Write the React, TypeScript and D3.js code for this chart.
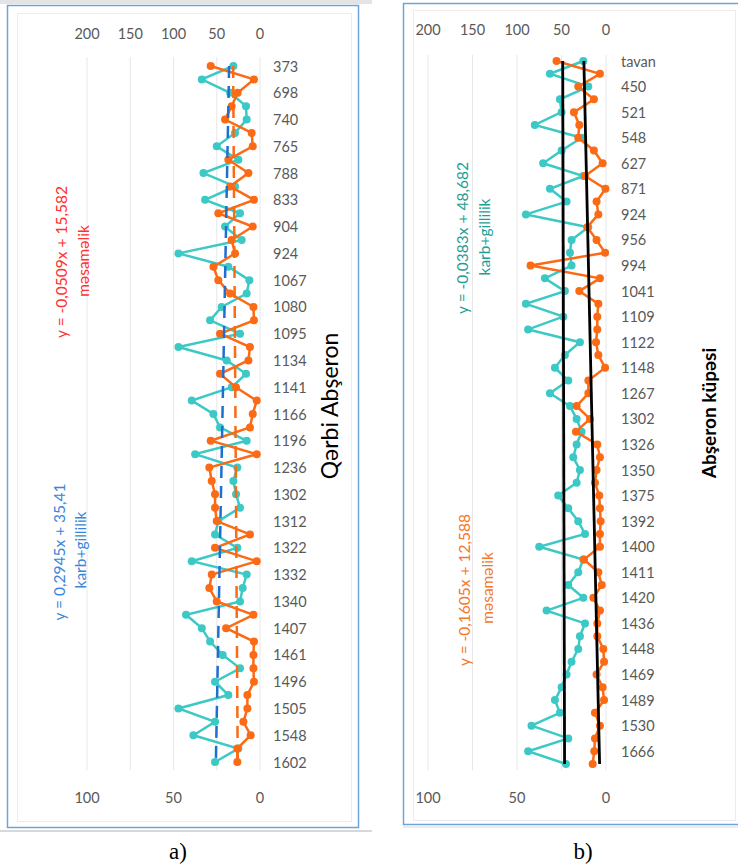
import * as d3 from 'd3';

// ── Data ──────────────────────────────────────────────────────────────────
const depthsA = ['373', '698', '740', '765', '788', '833', '904', '924', '1067', '1080', '1095', '1134', '1141', '1166', '1196', '1236', '1302', '1312', '1322', '1332', '1340', '1407', '1461', '1496', '1505', '1548', '1602'];
// karb+gillilik (primary axis 0–200)
const karbA = [30.8, 67.3, 34.6, 16.2, 15.4, 28.9, 50, 25, 65.4, 28.9, 63.5, 23.1, 40.4, 21.2, 94.3, 36.6, 12.3, 15.4, 44.3, 57.7, 23.1, 94.3, 38.5, 16.2, 32.7, 78.9, 53.9, 46.2, 15.4, 75, 26.2, 30.8, 27.7, 23.1, 48.1, 52, 26.2, 78.9, 15.4, 20, 23.1, 85.5, 67.3, 57.7, 43.1, 23.1, 52, 36.6, 94.3, 52, 77, 25, 52];
// məsaməlik (secondary axis 0–100)
const mesameA = [28.5, 3.5, 12.9, 16.4, 20.2, 4.8, 4.2, 18.3, 6.7, 17.3, 3.5, 24.1, 4.2, 16.4, 14.4, 26.9, 24.1, 17.3, 3.8, 3.5, 23.1, 5.8, 6.7, 23.1, 13.9, 1.9, 4.2, 5.8, 28.5, 1.9, 29.3, 27.9, 26, 26, 25, 5.8, 26, 1.9, 27.9, 29.3, 25, 3.8, 19.6, 3.5, 3.8, 3.8, 3.5, 7.3, 7.3, 9.6, 5.4, 13.1, 13.1];

const depthsB = ['tavan', '450', '521', '548', '627', '871', '924', '956', '994', '1041', '1109', '1122', '1148', '1267', '1302', '1326', '1350', '1375', '1392', '1400', '1411', '1420', '1436', '1448', '1469', '1489', '1530', '1666'];
const karbB = [25.5, 63, 19.9, 51.8, 49.9, 80, 27.4, 49.9, 70.6, 25.5, 63, 44.3, 90, 19.9, 38.7, 40.5, 38.7, 68.7, 46.2, 90, 48, 87.5, 29.3, 46.2, 57.4, 42.4, 63, 40.5, 33, 27.4, 33, 36.8, 29.3, 33, 53.7, 42.4, 31.2, 23.6, 75, 25.5, 31.2, 42.4, 25.5, 66.8, 23.6, 29.3, 31.2, 38.7, 44.3, 49.9, 57.4, 51.8, 83.7, 42.4, 87.5, 45];
const mesameB = [27.8, 3.4, 15.6, 6.8, 18, 15, 15.6, 6.8, 1.9, 11.8, 0.3, 5.3, 4.3, 10.5, 5.3, 0.5, 42.4, 3.4, 15, 4.3, 4.9, 4.9, 5.6, 4.3, 0.5, 9.9, 9.9, 16.5, 9, 16.9, 4.9, 3.4, 5.3, 6.2, 3.8, 3.4, 3, 3.4, 3.4, 12.4, 4.3, 2.4, 7.1, 3.4, 4.9, 4.9, 1.5, 1.1, 5.3, 1.9, 1.1, 6.2, 3.4, 6.2, 6.6, 7.5];

const topTicks = [200, 150, 100, 50, 0];
const bottomTicks = [100, 50, 0];

// trendline [slope, intercept] as printed on the chart
const trendKarbA = [0.2945, 35.41];
const trendMesameA = [-0.0509, 15.582];
const trendKarbB = [-0.0383, 48.682];
const trendMesameB = [-0.1605, 12.588];

const CYAN = '#3cc9c6';
const ORANGE = '#fb6a14';
const FONT = 'Lato, "Open Sans", sans-serif';

const Panel = ({ depths, karb, mesame, left, right, top, bottom, gridTop, gridBottom, topAxisY, bottomAxisY, labelX, trendKarb, trendMesame, trendKarbStyle, trendMesameStyle }) => {
  const n = karb.length;
  const xTop = d3.scaleLinear().domain([0, 200]).range([right, left]);
  const xBot = d3.scaleLinear().domain([0, 100]).range([right, left]);
  const y = d3.scaleLinear().domain([0, n - 1]).range([top, bottom]);

  const lineK = d3
    .line<number>()
    .x(d => xTop(d))
    .y((d, i) => y(i));
  const lineM = d3
    .line<number>()
    .x(d => xBot(d))
    .y((d, i) => y(i));

  const tk = (i: number) => trendKarb[0] * (i + 1) + trendKarb[1];
  const tm = (i: number) => trendMesame[0] * (i + 1) + trendMesame[1];

  return (
    <g>
      {/* gridlines */}
      {topTicks.map(t => (
        <line key={t} x1={xTop(t)} x2={xTop(t)} y1={gridTop} y2={gridBottom} stroke="#e7e7e7" strokeWidth={1} />
      ))}
      {/* top axis */}
      {topTicks.map(t => (
        <text key={'t' + t} x={xTop(t)} y={topAxisY} textAnchor="middle" dominantBaseline="central" fontSize={14.5} fill="#595959" fontFamily={FONT}>
          {t}
        </text>
      ))}
      {/* bottom axis */}
      {bottomTicks.map(t => (
        <text key={'b' + t} x={xBot(t)} y={bottomAxisY} textAnchor="middle" dominantBaseline="central" fontSize={14.5} fill="#595959" fontFamily={FONT}>
          {t}
        </text>
      ))}
      {/* category labels */}
      {depths.map((d, i) => (
        <text key={'c' + i} x={labelX} y={y(i * 2)} dominantBaseline="central" fontSize={14.5} fill="#595959" fontFamily={FONT}>
          {d}
        </text>
      ))}
      {/* series */}
      <path d={lineK(karb)} fill="none" stroke={CYAN} strokeWidth={2.5} />
      {karb.map((v, i) => (
        <circle key={'k' + i} cx={xTop(v)} cy={y(i)} r={4} fill={CYAN} />
      ))}
      <path d={lineM(mesame)} fill="none" stroke={ORANGE} strokeWidth={2.5} />
      {mesame.map((v, i) => (
        <circle key={'m' + i} cx={xBot(v)} cy={y(i)} r={4} fill={ORANGE} />
      ))}
      {/* trendlines */}
      <line x1={xTop(tk(0))} x2={xTop(tk(n - 1))} y1={y(0)} y2={y(n - 1)} {...trendKarbStyle} />
      <line x1={xBot(tm(0))} x2={xBot(tm(n - 1))} y1={y(0)} y2={y(n - 1)} {...trendMesameStyle} />
    </g>
  );
};

const VText = ({ x, y, children, size = 15.5, fill, weight = 'normal', family = FONT }) => (
  <text transform={`translate(${x},${y}) rotate(-90)`} textAnchor="middle" dominantBaseline="central" fontSize={size} fill={fill} fontWeight={weight} fontFamily={family}>
    {children}
  </text>
);

export default function App() {
  return (
    <svg width={738} height={866} style={{ display: 'block', position: 'absolute', left: 0, top: 0, background: '#fff' }}>
      {/* panel a frame */}
      <rect x={0} y={0} width={372} height={4} fill="#e4e4e4" />
      <rect x={7.5} y={5.5} width={351} height={822} fill="#fff" stroke="#6fa3dc" strokeWidth={1.5} />
      <rect x={17.5} y={13.5} width={334} height={808} fill="none" stroke="#ececec" strokeWidth={1} />
      <line x1={0} x2={372} y1={831} y2={831} stroke="#d8d8d8" strokeWidth={2} />

      {/* panel b frame */}
      <rect x={403.5} y={3.5} width={345} height={821} fill="#fff" stroke="#6fa3dc" strokeWidth={1.5} />
      <rect x={413.5} y={10.5} width={322} height={810} fill="none" stroke="#ececec" strokeWidth={1} />
      <line x1={403} x2={738} y1={827} y2={827} stroke="#d8d8d8" strokeWidth={1} />

      <Panel
        depths={depthsA}
        karb={karbA}
        mesame={mesameA}
        left={87}
        right={260}
        top={66}
        bottom={762}
        gridTop={57}
        gridBottom={770}
        topAxisY={33}
        bottomAxisY={797}
        labelX={273}
        trendKarb={trendKarbA}
        trendMesame={trendMesameA}
        trendKarbStyle={{ stroke: '#1f6fd1', strokeWidth: 2.5, strokeDasharray: '12 8' }}
        trendMesameStyle={{ stroke: ORANGE, strokeWidth: 2.5, strokeDasharray: '12 8' }}
      />
      <Panel
        depths={depthsB}
        karb={karbB}
        mesame={mesameB}
        left={428}
        right={606}
        top={61}
        bottom={764}
        gridTop={55}
        gridBottom={770}
        topAxisY={29}
        bottomAxisY={797}
        labelX={621}
        trendKarb={trendKarbB}
        trendMesame={trendMesameB}
        trendKarbStyle={{ stroke: '#000', strokeWidth: 2.8 }}
        trendMesameStyle={{ stroke: '#000', strokeWidth: 2.8 }}
      />

      {/* panel a annotations */}
      <VText x={61} y={262} fill="#ff3030">y = -0,0509x + 15,582</VText>
      <VText x={83} y={261} fill="#ff3030">məsaməlik</VText>
      <VText x={59} y={552} fill="#3a86d9">y = 0,2945x + 35,41</VText>
      <VText x={80} y={550} fill="#3a86d9">karb+gillilik</VText>
      <VText x={329} y={406} size={23} fill="#000">Qərbi Abşeron</VText>

      {/* panel b annotations */}
      <VText x={462} y={238} fill="#1f9e96">y = -0,0383x + 48,682</VText>
      <VText x={484} y={237} fill="#1f9e96">karb+gillilik</VText>
      <VText x={464} y={590} fill="#f5772a">y = -0,1605x + 12,588</VText>
      <VText x={487} y={588} fill="#f5772a">məsaməlik</VText>
      <VText x={708} y={413} size={19} weight="bold" fill="#000">Abşeron küpəsi</VText>

      {/* captions */}
      <text x={178} y={859} textAnchor="middle" fontSize={23} fontFamily='"Liberation Serif", "Times New Roman", serif' fill="#000">
        a)
      </text>
      <text x={583} y={859} textAnchor="middle" fontSize={23} fontFamily='"Liberation Serif", "Times New Roman", serif' fill="#000">
        b)
      </text>
    </svg>
  );
}
